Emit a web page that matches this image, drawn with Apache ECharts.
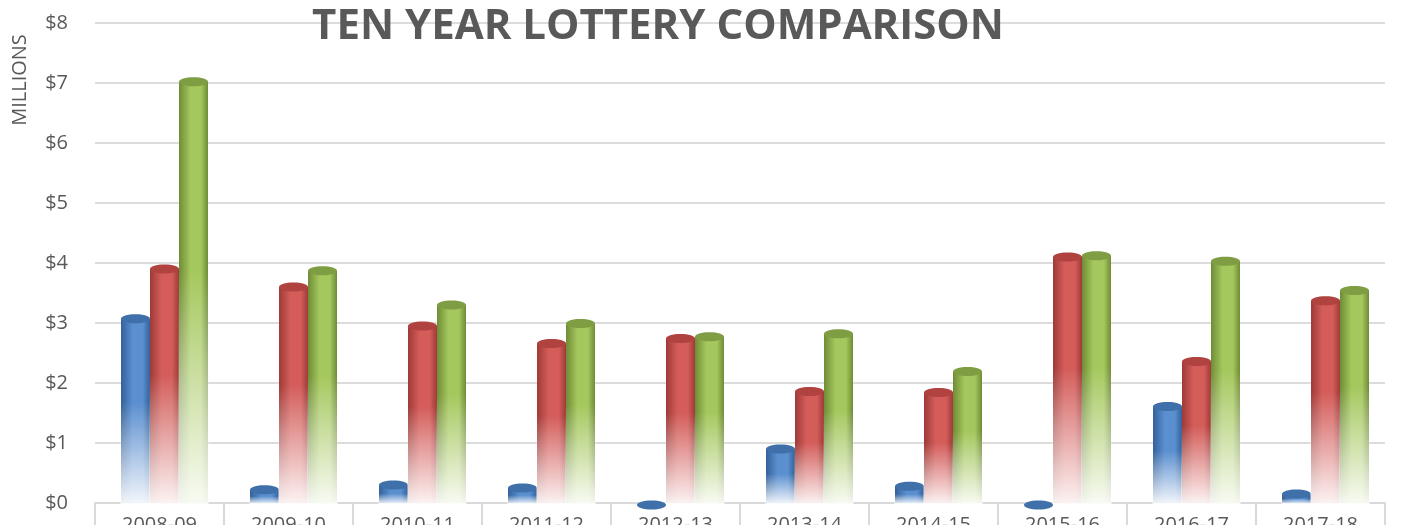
<!DOCTYPE html>
<html>
<head>
<meta charset="utf-8">
<script src="https://cdn.jsdelivr.net/npm/echarts@6/dist/echarts.min.js"></script>
<style>
  html, body { margin: 0; padding: 0; background: #fff; }
  #chart { width: 1404px; height: 525px; }
</style>
</head>
<body>
<div id="chart"></div>
<script>
// ten fiscal years, values in millions of dollars
var years = ['2008-09', '2009-10', '2010-11', '2011-12', '2012-13', '2013-14', '2014-15', '2015-16', '2016-17', '2017-18'];
var blueVals  = [3.07, 0.22, 0.30, 0.25, 0.00, 0.90, 0.28, 0.00, 1.61, 0.15];
var redVals   = [3.90, 3.60, 2.95, 2.66, 2.74, 1.86, 1.84, 4.10, 2.36, 3.37];
var greenVals = [7.02, 3.87, 3.30, 2.99, 2.77, 2.82, 2.19, 4.12, 4.03, 3.54];
var yTicks = [0, 1, 2, 3, 4, 5, 6, 7, 8];

var chart = echarts.init(document.getElementById('chart'));

// colours for each cylinder: [dark edge, light middle, top cap]
var palette = {
  blue:  ['#34619a', '#5a8fd0', '#3f70aa'],
  red:   ['#9e3a37', '#d45d5a', '#b0423f'],
  green: ['#6f8c36', '#a5c85e', '#7f9e44']
};

var BAR_W = 29;

function cylinder(colors, offset) {
  return function (params, api) {
    var cat = api.value(0);
    var val = api.value(1);
    var top = api.coord([cat, val]);
    var base = api.coord([cat, 0]);
    var x = top[0] + offset - BAR_W / 2;
    var cx = top[0] + offset;
    var h = base[1] - top[1];
    var children = [];
    if (h > 1) {
      children.push({
        type: 'rect',
        shape: { x: x, y: top[1], width: BAR_W, height: h },
        style: {
          fill: new echarts.graphic.LinearGradient(0, 0, 1, 0, [
            { offset: 0, color: colors[0] },
            { offset: 0.4, color: colors[1] },
            { offset: 0.75, color: colors[1] },
            { offset: 1, color: colors[0] }
          ])
        }
      });
      // fade to white toward the floor
      children.push({
        type: 'rect',
        shape: { x: x - 0.5, y: top[1], width: BAR_W + 1, height: h + 1 },
        style: {
          fill: new echarts.graphic.LinearGradient(0, 0, 0, 1, [
            { offset: 0, color: 'rgba(255,255,255,0)' },
            { offset: 0.45, color: 'rgba(255,255,255,0)' },
            { offset: 1, color: 'rgba(255,255,255,0.93)' }
          ])
        }
      });
    }
    children.push({
      type: 'ellipse',
      shape: { cx: cx, cy: h > 1 ? top[1] : top[1] + 2, rx: BAR_W / 2, ry: 4.5 },
      style: { fill: colors[2] }
    });
    return { type: 'group', children: children };
  };
}

function makeSeries(name, vals, colors, offset) {
  return {
    name: name,
    type: 'custom',
    renderItem: cylinder(colors, offset),
    encode: { x: 0, y: 1 },
    data: vals.map(function (v, i) { return [i, v]; }),
    z: 3
  };
}

var option = {
  animation: false,
  title: {
    text: 'TEN YEAR LOTTERY COMPARISON',
    left: 653,
    textAlign: 'center',
    top: 1,
    textStyle: {
      fontFamily: 'Open Sans',
      fontWeight: 'bold',
      fontSize: 42,
      color: '#595959'
    }
  },
  graphic: [{
    type: 'text',
    x: 20,
    y: 80,
    rotation: Math.PI / 2,
    style: {
      text: 'MILLIONS',
      font: '20px "Open Sans"',
      fill: '#595959',
      align: 'center',
      verticalAlign: 'middle'
    }
  }],
  grid: { left: 95, right: 19, top: 23, bottom: 22, outerBoundsMode: 'none' },
  xAxis: {
    type: 'category',
    data: years,
    axisLine: { show: true, lineStyle: { color: '#d9d9d9', width: 2 } },
    axisTick: { show: true, length: 22, lineStyle: { color: '#d9d9d9', width: 2 } },
    axisLabel: { margin: 12, fontSize: 20, color: '#595959', fontFamily: 'Open Sans' },
    splitLine: { show: false }
  },
  yAxis: {
    type: 'value',
    min: yTicks[0],
    max: yTicks[yTicks.length - 1],
    interval: 1,
    axisLine: { show: false },
    axisTick: { show: false },
    axisLabel: {
      margin: 27,
      fontSize: 20,
      color: '#595959',
      fontFamily: 'Open Sans',
      formatter: function (v) { return '$' + v; }
    },
    splitLine: { lineStyle: { color: '#dcdcdc', width: 2 } }
  },
  series: [
    makeSeries('Blue', blueVals, palette.blue, 5 - BAR_W),
    makeSeries('Red', redVals, palette.red, 5),
    makeSeries('Green', greenVals, palette.green, 5 + BAR_W)
  ]
};

chart.setOption(option);
</script>
</body>
</html>
